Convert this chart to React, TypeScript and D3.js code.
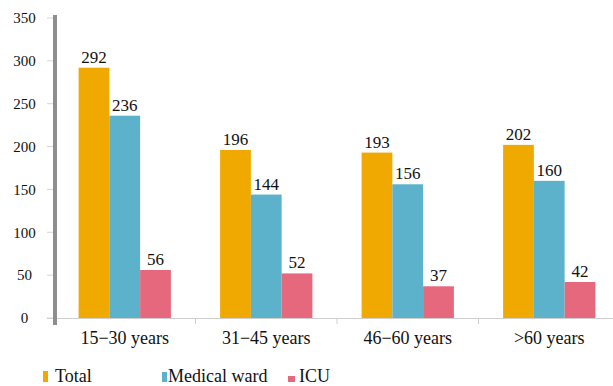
import React from "react";
import * as d3 from "d3";

const categories = ["15\u221230 years", "31\u221245 years", "46\u221260 years", ">60 years"];
const seriesNames = ["Total", "Medical ward", "ICU"];
const totalValues = [292, 196, 193, 202];
const wardValues = [236, 144, 156, 160];
const icuValues = [56, 52, 37, 42];
const yTicks = [0, 50, 100, 150, 200, 250, 300, 350];
const colors = ["#EFA900", "#5CB2CB", "#E5687D"];

const W = 613;
const H = 386;
const FONT = "Liberation Serif, Tinos, Times New Roman, DejaVu Serif, serif";

export default function App() {
  const series = [totalValues, wardValues, icuValues];
  const x0 = d3.scaleBand<string>().domain(categories).range([54, 620]).paddingInner(0).paddingOuter(0);
  const x1 = d3
    .scaleBand<string>()
    .domain(seriesNames)
    .range([0, x0.bandwidth()])
    .paddingInner(0)
    .paddingOuter(0.8);
  const y = d3.scaleLinear().domain([0, 350]).range([318, 18]);

  const legendItems = [
    { name: seriesNames[0], color: colors[0], mx: 43, my: 371, mw: 5, mh: 11, tx: 55 },
    { name: seriesNames[1], color: colors[1], mx: 162, my: 372, mw: 5, mh: 10, tx: 168 },
    { name: seriesNames[2], color: colors[2], mx: 288, my: 376, mw: 7, mh: 6, tx: 299 },
  ];

  const textStyle = { fontFamily: FONT };

  return (
    <svg
      width={W}
      height={H}
      style={{ position: "absolute", left: 0, top: 0, background: "#fff", fontFamily: FONT }}
    >
      {/* y tick labels and small ticks */}
      {yTicks.map((t) => (
        <g key={t}>
          <line x1={47} x2={53} y1={y(t)} y2={y(t)} stroke="#d6d6d6" strokeWidth={1} />
          <text
            x={24.5}
            y={y(t)}
            dy="0.35em"
            textAnchor="middle"
            fontSize={15}
            fill="#111"
            style={textStyle}
          >
            {t}
          </text>
        </g>
      ))}

      {/* x axis */}
      <line x1={47} x2={W} y1={318.5} y2={318.5} stroke="#cfcfcf" strokeWidth={1} />
      {categories.slice(1).map((c) => (
        <line
          key={c}
          x1={x0(c)!}
          x2={x0(c)!}
          y1={318}
          y2={324}
          stroke="#cfcfcf"
          strokeWidth={1}
        />
      ))}

      {/* bars */}
      {categories.map((c, ci) => (
        <g key={c} transform={`translate(${x0(c)},0)`}>
          {seriesNames.map((s, si) => {
            const v = series[si][ci];
            const bx = x1(s)!;
            const bw = x1.bandwidth();
            return (
              <g key={s}>
                <rect x={bx} y={y(v)} width={bw} height={y(0) - y(v)} fill={colors[si]} />
                <text
                  x={bx + bw / 2}
                  y={y(v) - 5}
                  textAnchor="middle"
                  fontSize={17}
                  fill="#111"
                  style={textStyle}
                >
                  {v}
                </text>
              </g>
            );
          })}
        </g>
      ))}

      {/* y axis line */}
      <line x1={55} x2={55} y1={15} y2={325} stroke="#8e8e8e" strokeWidth={4} />

      {/* category labels */}
      {categories.map((c) => (
        <text
          key={c}
          x={x0(c)! + x0.bandwidth() / 2}
          y={344}
          textAnchor="middle"
          fontSize={18}
          fill="#111"
          style={textStyle}
        >
          {c}
        </text>
      ))}

      {/* legend */}
      {legendItems.map((l) => (
        <g key={l.name}>
          <rect x={l.mx} y={l.my} width={l.mw} height={l.mh} fill={l.color} />
          <text x={l.tx} y={382} fontSize={18} fill="#111" style={textStyle}>
            {l.name}
          </text>
        </g>
      ))}
    </svg>
  );
}
